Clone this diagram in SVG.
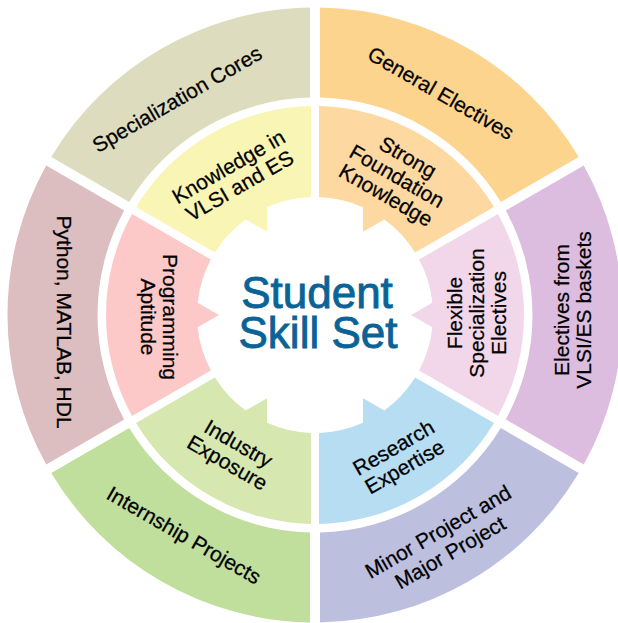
<svg xmlns="http://www.w3.org/2000/svg" xmlns:xlink="http://www.w3.org/1999/xlink" width="618" height="623" viewBox="0 0 618 623">
<style>
.lbl{font-family:"Liberation Sans",Arial,Helvetica,sans-serif;font-size:21px;fill:#000;stroke:#000;stroke-width:0.25;text-anchor:middle}
.title{font-family:"Liberation Sans",Arial,Helvetica,sans-serif;font-size:44px;fill:#0a6397;stroke:#0a6397;stroke-width:0.9;text-anchor:middle}
</style>
<defs>
<path id="outerSeg" d="M 268.77 -149.40 A 307.5 307.5 0 0 1 268.77 149.40 L 190.81 104.39 A 217.5 217.5 0 0 0 190.81 -104.39 Z"/>
<path id="innerSeg" d="M 182.97 -101.02 A 209 209 0 0 1 182.97 101.02 L 104.13 55.50 A 118 118 0 0 0 117.36 12.33 L 96 0 L 117.36 -12.33 A 118 118 0 0 0 104.13 -55.50 Z"/>
</defs>
<rect width="618" height="623" fill="#ffffff"/>

<g id="specialization-cores">
<use xlink:href="#outerSeg" transform="translate(315,315) rotate(240)" fill="#dddcbe"/>
<text class="lbl" transform="translate(177,99) rotate(-30)" x="0" y="7.4">Specialization Cores</text>
</g>
<g id="general-electives">
<use xlink:href="#outerSeg" transform="translate(315,315) rotate(300)" fill="#fdd48e"/>
<text class="lbl" transform="translate(441,93) rotate(30)" x="0" y="7.4">General Electives</text>
</g>
<g id="electives-vlsi-es">
<use xlink:href="#outerSeg" transform="translate(315,315) rotate(0)" fill="#dcbde0"/>
<text class="lbl" transform="translate(573,310) rotate(-90)"><tspan x="0" y="-3.6">Electives from</tspan><tspan x="0" y="18.4">VLSI/ES baskets</tspan></text>
</g>
<g id="minor-major-project">
<use xlink:href="#outerSeg" transform="translate(315,315) rotate(60)" fill="#bdbfdf"/>
<text class="lbl" transform="translate(444,542) rotate(-30)"><tspan x="0" y="-4.6">Minor Project and</tspan><tspan x="0" y="19.4">Major Project</tspan></text>
</g>
<g id="internship-projects">
<use xlink:href="#outerSeg" transform="translate(315,315) rotate(120)" fill="#c0de9c"/>
<text class="lbl" transform="translate(184,535) rotate(30)" x="0" y="7.4">Internship Projects</text>
</g>
<g id="python-matlab-hdl">
<use xlink:href="#outerSeg" transform="translate(315,315) rotate(180)" fill="#dcbdc0"/>
<text class="lbl" transform="translate(64,322) rotate(90)" x="0" y="7.4">Python, MATLAB, HDL</text>
</g>

<g id="knowledge-vlsi-es">
<use xlink:href="#innerSeg" transform="translate(315,315) rotate(240)" fill="#f9f5b5"/>
<text class="lbl" transform="translate(234,176) rotate(-30)"><tspan x="0" y="-3.6">Knowledge in</tspan><tspan x="0" y="18.4">VLSI and ES</tspan></text>
</g>
<g id="strong-foundation">
<use xlink:href="#innerSeg" transform="translate(315,315) rotate(300)" fill="#fdd9a1"/>
<text class="lbl" transform="translate(397,176) rotate(30)"><tspan x="0" y="-14.6">Strong</tspan><tspan x="0" y="7.4">Foundation</tspan><tspan x="0" y="29.4">Knowledge</tspan></text>
</g>
<g id="flexible-electives">
<use xlink:href="#innerSeg" transform="translate(315,315) rotate(0)" fill="#f1d7e9"/>
<text class="lbl" transform="translate(477,313) rotate(-90)"><tspan x="0" y="-14.6">Flexible</tspan><tspan x="0" y="7.4">Specialization</tspan><tspan x="0" y="29.4">Electives</tspan></text>
</g>
<g id="research-expertise">
<use xlink:href="#innerSeg" transform="translate(315,315) rotate(60)" fill="#b7ddf3"/>
<text class="lbl" transform="translate(399,457) rotate(-30)"><tspan x="0" y="-3.6">Research</tspan><tspan x="0" y="18.4">Expertise</tspan></text>
</g>
<g id="industry-exposure">
<use xlink:href="#innerSeg" transform="translate(315,315) rotate(120)" fill="#d6e7b0"/>
<text class="lbl" transform="translate(233,453) rotate(30)"><tspan x="0" y="-3.6">Industry</tspan><tspan x="0" y="18.4">Exposure</tspan></text>
</g>
<g id="programming-aptitude">
<use xlink:href="#innerSeg" transform="translate(315,315) rotate(180)" fill="#fdc9c8"/>
<text class="lbl" transform="translate(159,317) rotate(90)"><tspan x="0" y="-3.6">Programming</tspan><tspan x="0" y="18.4">Aptitude</tspan></text>
</g>

<g id="center">
<text class="title"><tspan x="317" y="308">Student</tspan><tspan x="318" y="348">Skill Set</tspan></text>
</g>
<g id="connectors"></g>
</svg>
